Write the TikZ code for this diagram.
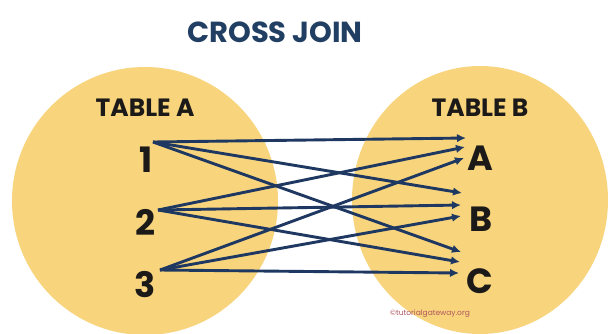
\documentclass[tikz,border=0pt]{standalone}
\usepackage{fontspec}
\setmainfont{Poppins}
\usetikzlibrary{arrows.meta}
\definecolor{tablefill}{RGB}{248,213,125}
\definecolor{linkblue}{RGB}{30,56,98}
\definecolor{titleblue}{RGB}{33,62,99}
\definecolor{inkdark}{RGB}{28,26,24}
\definecolor{markred}{RGB}{176,84,92}
\begin{document}
\begin{tikzpicture}[x=1pt,y=-1pt,
  tablelabel/.style={font=\bfseries\fontsize{25}{25}\selectfont, text=inkdark, inner sep=0pt},
  entry/.style={font=\bfseries\fontsize{35}{35}\selectfont, text=inkdark, inner sep=0pt},
  link/.style={draw=linkblue, line width=2.9pt, -{Latex[length=9pt,width=8.5pt]}},
]
\useasboundingbox (0,0) rectangle (610,333);
\clip (0,0) rectangle (610,333);
\fill[white] (0,0) rectangle (610,333);

% the two tables
\fill[tablefill] (145,201) ellipse [x radius=133, y radius=134];
\fill[tablefill] (480,200) ellipse [x radius=128, y radius=134];

% headings
\node[font=\bfseries\fontsize{29}{29}\selectfont, text=titleblue, inner sep=0pt] (title) at (275,32) {CROSS JOIN};
\node[tablelabel] (ta) at (145,108) {TABLE A};
\node[tablelabel] (tb) at (480,108) {TABLE B};

% rows of table A
\node[entry] (n1) at (146,160) {1};
\node[entry] (n2) at (145,222) {2};
\node[entry] (n3) at (145,285) {3};

% rows of table B
\node[entry] (ra) at (480,158) {A};
\node[entry] (rb) at (481,219) {B};
\node[entry] (rc) at (480,281) {C};

% where the connectors leave the rows of A
\coordinate (s1) at (153,142);
\coordinate (s2) at (158,210);
\coordinate (s3) at (160,270);

% where the connectors reach the rows of B
\coordinate (a1) at (466,138);
\coordinate (a2) at (465,147);
\coordinate (a3) at (464,158);
\coordinate (b1) at (462,193);
\coordinate (b2) at (461,205);
\coordinate (b3) at (461,216);
\coordinate (c1) at (461,252);
\coordinate (c2) at (460,262);
\coordinate (c3) at (459,273);

% every pairing of a row of A with a row of B
\draw[link] (s1) -- (a1);
\draw[link] (s1) -- (b1);
\draw[link] (s1) -- (c1);
\draw[link] (s2) -- (a2);
\draw[link] (s2) -- (b2);
\draw[link] (s2) -- (c2);
\draw[link] (s3) -- (a3);
\draw[link] (s3) -- (b3);
\draw[link] (s3) -- (c3);

\node[font=\fontsize{7.5}{7.5}\selectfont, text=markred, inner sep=0pt] (wm) at (430,314) {©tutorialgateway.org};
\end{tikzpicture}
\end{document}
